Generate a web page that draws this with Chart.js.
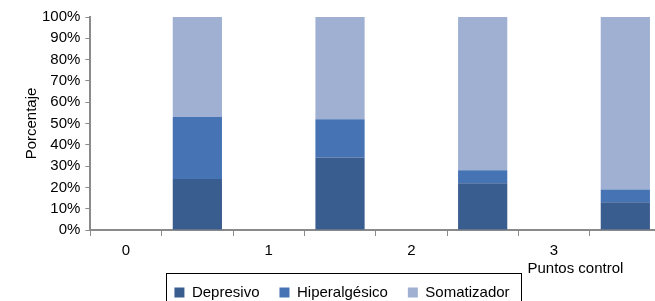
<!DOCTYPE html>
<html>
<head>
<meta charset="utf-8">
<title>Porcentaje por punto de control</title>
<script src="https://cdn.jsdelivr.net/npm/chart.js@4/dist/chart.umd.min.js"></script>
<style>
  html, body { margin: 0; padding: 0; background: #fff; overflow: hidden; }
  #wrap { width: 661px; height: 301px; }
</style>
</head>
<body>
<div id="wrap"><canvas id="chart" width="661" height="301"></canvas></div>
<script>
// values (percent of each bar)
const controlPoints = ['0', '1', '2', '3'];
const depresivo = [24, 34, 22, 13];
const hiperalgesico = [29, 18, 6, 6];
const somatizador = [47, 48, 72, 81];

const seriesNames = ['Depresivo', 'Hiperalgésico', 'Somatizador'];
const seriesColors = ['#3a5d90', '#4573b3', '#9fb0d3'];

const axisColor = '#8a8a8a';
const font = { family: "'Liberation Sans', Arial, sans-serif", size: 15 };

// each control point label gets a slot, its bar sits in the slot after it
const slots = [];
controlPoints.forEach(p => { slots.push(p); slots.push(''); });
function spread(values) {
    const out = [];
    values.forEach(v => { out.push(null); out.push(v); });
    return out;
}

const datasets = [depresivo, hiperalgesico, somatizador].map((vals, i) => ({
    label: seriesNames[i],
    data: spread(vals),
    backgroundColor: seriesColors[i],
    borderWidth: 0,
    barPercentage: 0.69,
    categoryPercentage: 1
}));

// x title sits under the "3" label and a box is drawn round the legend
const extras = {
    id: 'extras',
    afterLayout(chart) {
        const lg = chart.legend;
        lg.left += 2;
        lg.right += 2;
        lg.top -= 1;
        lg.bottom -= 1;
    },
    afterDraw(chart) {
        const ctx = chart.ctx;
        const x = chart.scales.x;
        ctx.save();
        ctx.font = "15px 'Liberation Sans', Arial, sans-serif";
        ctx.fillStyle = '#000';
        ctx.textAlign = 'right';
        ctx.textBaseline = 'middle';
        ctx.fillText('Puntos control', x.getPixelForValue(7) - 2, x.top + 39);

        const boxes = chart.legend.legendHitBoxes;
        if (boxes && boxes.length) {
            const first = boxes[0], last = boxes[boxes.length - 1];
            const left = first.left - 8;
            const right = last.left + last.width + 12;
            const top = first.top - 12;
            ctx.strokeStyle = '#000';
            ctx.lineWidth = 1;
            ctx.strokeRect(Math.round(left) + 0.5, Math.round(top) + 0.5, Math.round(right - left), 40);
        }
        ctx.restore();
    }
};

const ctx = document.getElementById('chart').getContext('2d');
new Chart(ctx, {
    type: 'bar',
    data: { labels: slots, datasets: datasets },
    plugins: [extras],
    options: {
        responsive: false,
        animation: false,
        layout: { padding: { left: 19, top: 17, right: 0, bottom: -10 } },
        plugins: {
            tooltip: { enabled: false },
            legend: {
                position: 'bottom',
                labels: {
                    boxWidth: 10,
                    boxHeight: 10,
                    padding: 20,
                    color: '#000',
                    font: font
                }
            }
        },
        scales: {
            x: {
                stacked: true,
                grid: { drawOnChartArea: false, drawTicks: true, tickLength: 6, color: axisColor, offset: true },
                border: { color: axisColor, width: 2 },
                ticks: { color: '#000', font: font, padding: 6, maxRotation: 0, autoSkip: false }
            },
            y: {
                stacked: true,
                min: 0,
                max: 100,
                grid: { drawOnChartArea: false, drawTicks: true, tickLength: 5, color: axisColor },
                border: { color: axisColor, width: 2 },
                ticks: { stepSize: 10, autoSkip: false, color: '#000', font: font, padding: 5, callback: v => v + '%' },
                title: { display: true, text: 'Porcentaje', color: '#000', font: font, padding: { top: 4, bottom: -4 } }
            }
        }
    }
});
</script>
</body>
</html>
